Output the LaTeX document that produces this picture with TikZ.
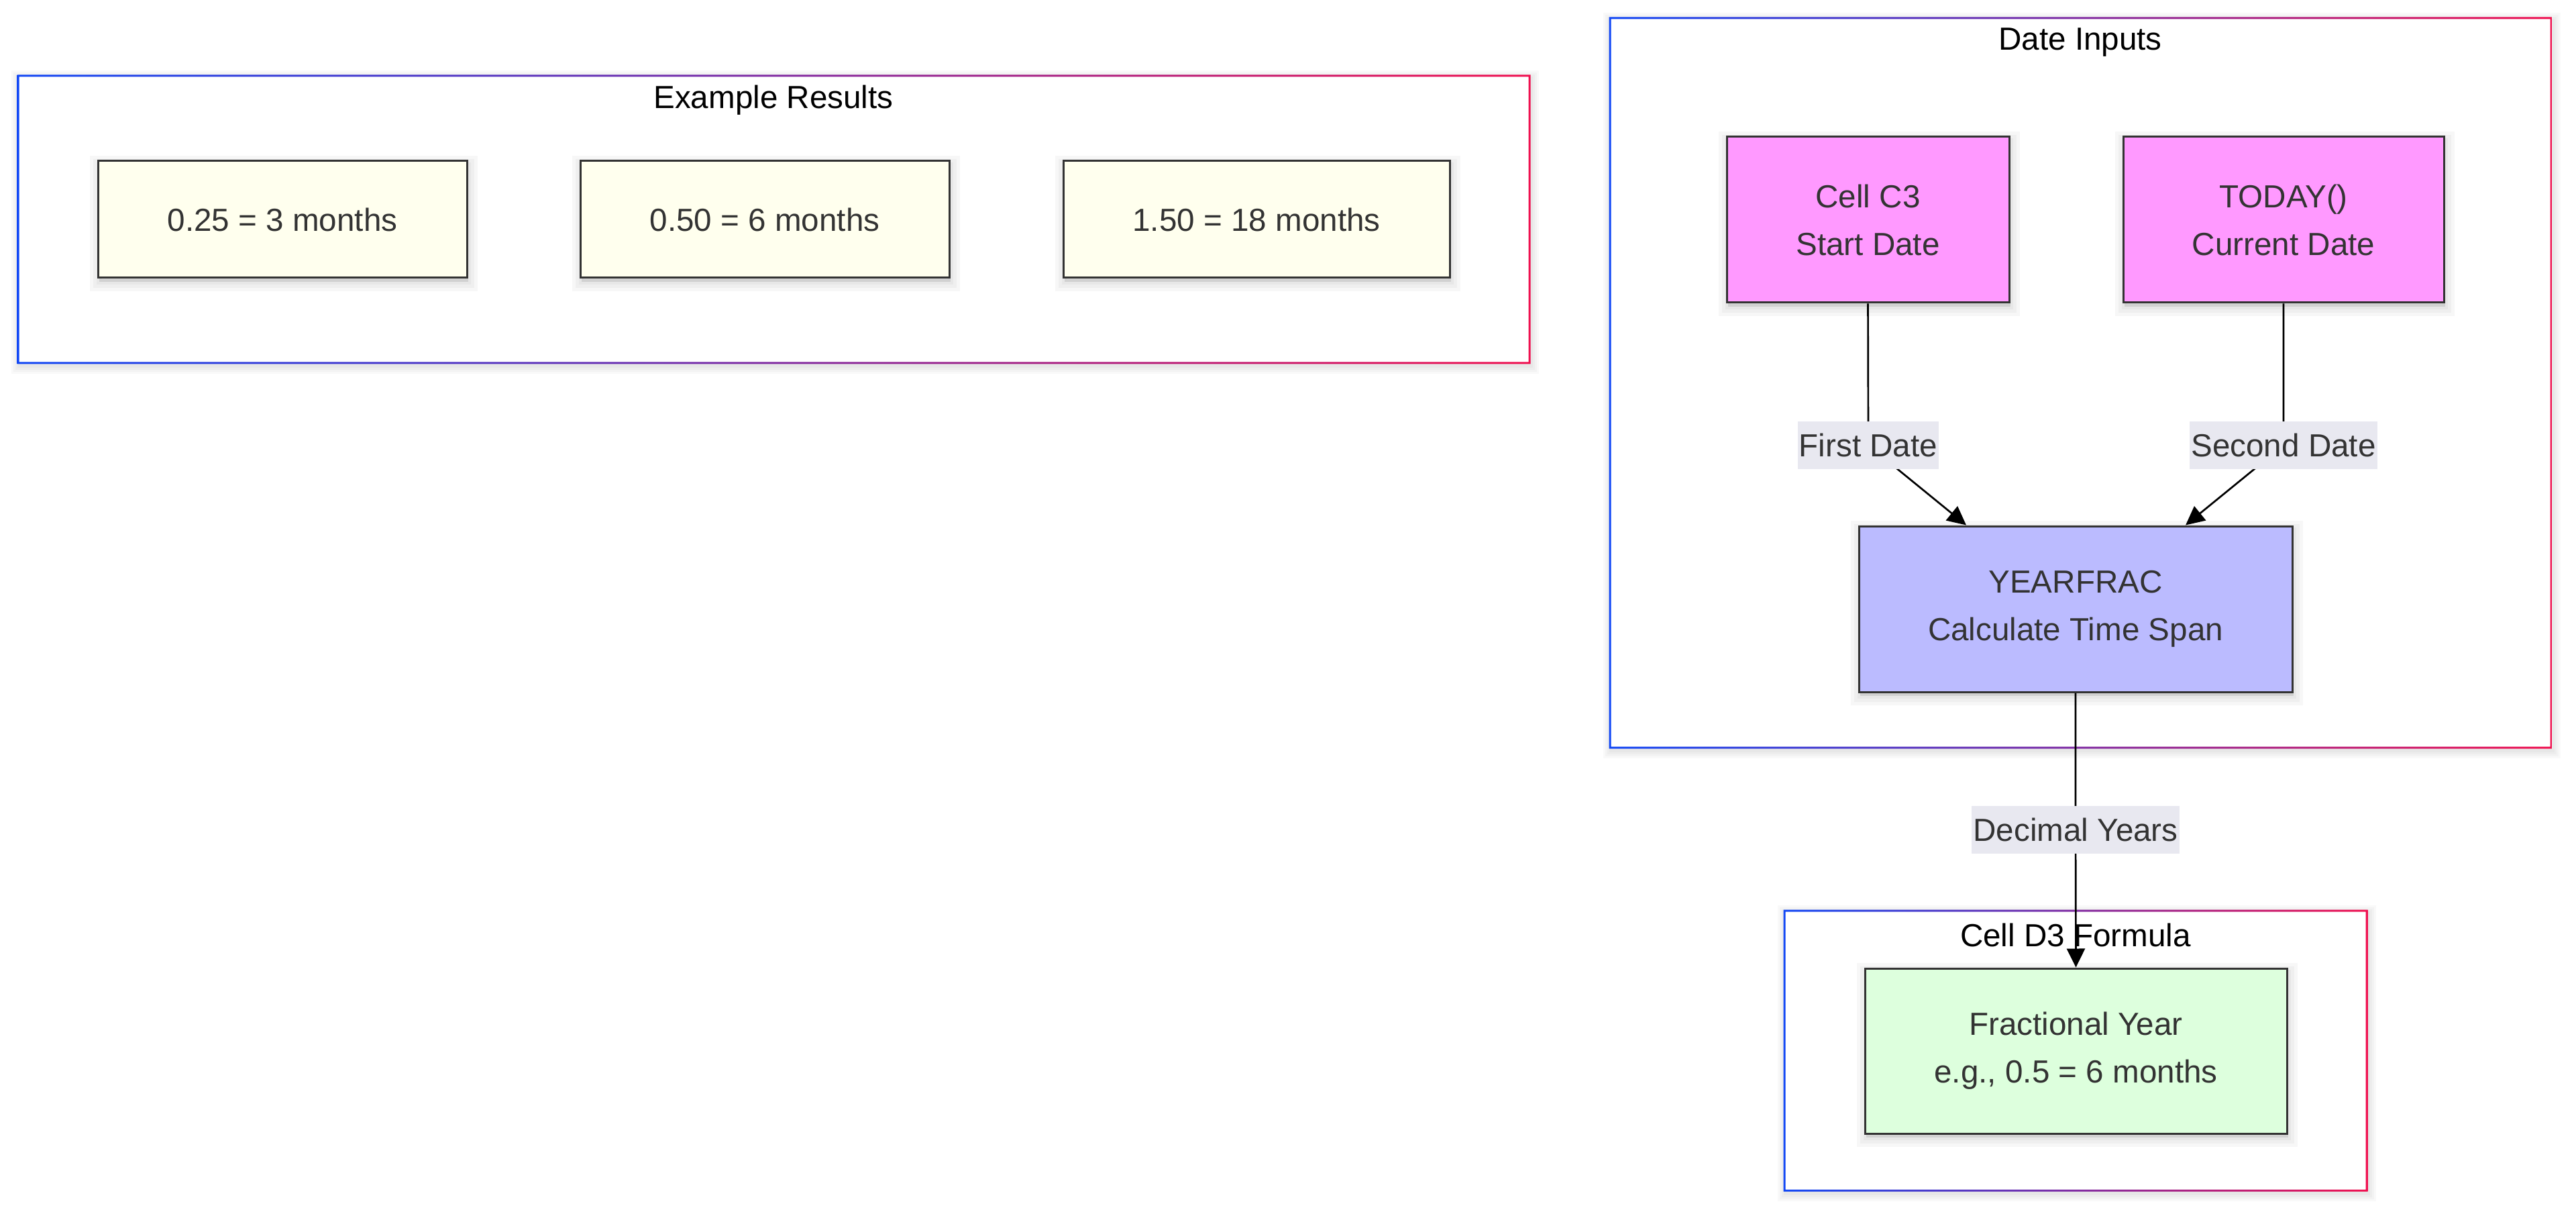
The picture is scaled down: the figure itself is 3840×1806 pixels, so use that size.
\documentclass[tikz,border=0pt]{standalone}
\usepackage{fontspec}
\setmainfont{Liberation Sans}
\usetikzlibrary{arrows.meta,calc}
\definecolor{cblue}{RGB}{17,71,245}
\definecolor{cred}{RGB}{240,16,79}
\definecolor{txt}{HTML}{333333}
\definecolor{exfill}{HTML}{FFFFEE}
\definecolor{pinkfill}{HTML}{FF99FF}
\definecolor{bluefill}{HTML}{BBBBFF}
\definecolor{greenfill}{HTML}{DDFFDD}
\definecolor{lblfill}{HTML}{E8E8F0}
\newcommand\gradframe[4]{%
  \foreach \g in {12,9,6,3} {%
    \fill[black,opacity=0.025] (#1+2-\g,#2+4-\g) rectangle (#3+2+\g,#4+4+\g);}
  \fill[white] (#1,#2) rectangle (#3,#4);
  \shade[left color=cblue,right color=cred,even odd rule]
    (#1-1.5,#2-1.5) rectangle (#3+1.5,#4+1.5)
    (#1+1.5,#2+1.5) rectangle (#3-1.5,#4-1.5);
}
\begin{document}
\begin{tikzpicture}[x=0.25pt,y=-0.25pt,
  font=\fontsize{11.9pt}{17.75pt}\selectfont,
  shlayer/.style={preaction={draw=black,fill=black,opacity=0.03,line width=#1,
      transform canvas={shift={(0.5pt,-1.6pt)}}}},
  box/.style={draw=txt,line width=0.75pt,text=txt,align=center,inner sep=0pt,
    shlayer=7pt,shlayer=4.5pt,shlayer=2pt},
  exbox/.style={box,fill=exfill,minimum height=43.5pt},
  pinkbox/.style={box,fill=pinkfill,minimum height=61.75pt},
  lbl/.style={fill=lblfill,text=txt,inner xsep=0.5pt,inner ysep=0pt,minimum height=17.75pt},
  ctitle/.style={text=black,inner sep=0pt},
  edge/.style={line width=0.67pt,black,-{Triangle[length=7pt,width=6.75pt]}}]
\useasboundingbox (0,0) rectangle (3840,1806);
% clusters
\gradframe{27}{113}{2280}{541}
\gradframe{2400}{27}{3803}{1114}
\gradframe{2660}{1357}{3528}{1774}
\node[ctitle] (tex) at (1153,149) {Example Results};
\node[ctitle] (tdi) at (3101,63) {Date Inputs};
\node[ctitle] (td3) at (3094,1393) {Cell D3 Formula};
% example nodes
\node[exbox,minimum width=137.5pt] (r1) at (421,327) {0.25 = 3 months};
\node[exbox,minimum width=137.5pt] (r2) at (1140,327) {0.50 = 6 months};
\node[exbox,minimum width=144pt] (r3) at (1873,327) {1.50 = 18 months};
% date inputs
\node[pinkbox,minimum width=105.25pt] (c3) at (2784.5,327.5) {Cell C3\\Start Date};
\node[pinkbox,minimum width=119.5pt] (td) at (3404,327.5) {TODAY()\\Current Date};
\node[box,fill=bluefill,minimum width=161.5pt,minimum height=61.75pt] (yf) at (3094,907.5) {YEARFRAC\\Calculate Time Span};
\node[box,fill=greenfill,minimum width=157.25pt,minimum height=61.5pt] (fy) at (3094.5,1566) {Fractional Year\\e.g., 0.5 = 6 months};
% label anchors
\coordinate (p1) at (2785,663.5);
\coordinate (p2) at (3404,663.5);
\coordinate (p3) at (3094,1236.5);
% edges
\draw[edge] (c3.south) -- (p1) -- ($(yf.north)+(-163,0)$);
\draw[edge] (td.south) -- (p2) -- ($(yf.north)+(164,0)$);
\draw[edge] (yf.south) -- (p3) -- (fy.north);
% labels
\node[lbl] (l1) at (p1) {First Date};
\node[lbl] (l2) at (p2) {Second Date};
\node[lbl] (l3) at (p3) {Decimal Years};
\end{tikzpicture}
\end{document}
